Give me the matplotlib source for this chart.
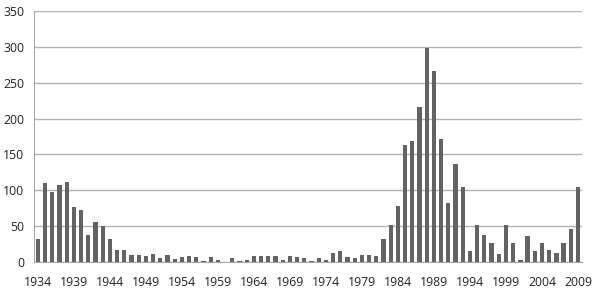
import matplotlib
matplotlib.use("Agg")
import matplotlib.pyplot as plt
import numpy as np

# one value per year, 1934 - 2009
years = list(range(1934, 2010))
counts = [32, 110, 97, 108, 112, 77, 72, 37, 56, 50,
          32, 17, 17, 10, 10, 9, 11, 6, 10, 4,
          7, 9, 7, 1, 7, 3, 0, 5, 2, 3,
          8, 8, 8, 8, 3, 9, 7, 6, 1, 6,
          3, 12, 16, 7, 6, 10, 10, 8, 32, 51,
          78, 163, 169, 216, 298, 267, 171, 83, 137, 105,
          15, 51, 37, 27, 11, 52, 26, 3, 36, 15,
          26, 17, 12, 26, 46, 105]
tick_years = list(range(1934, 2010, 5))

plt.rcParams['font.family'] = ['Open Sans', 'DejaVu Sans']

fig = plt.figure(figsize=(5.95, 2.91), dpi=100)
ax = fig.add_axes([0.057, 0.0997, 0.921, 0.862])

x = np.arange(len(years))
ax.bar(x, counts, width=0.6, color='#636363', zorder=3)

ax.set_xlim(-0.55, len(years) - 0.45)
ax.set_ylim(0, 350)
ax.set_yticks(range(0, 351, 50))
ax.yaxis.grid(True, color='#b3b3b3', linewidth=1, zorder=0)

ax.set_xticks([years.index(y) for y in tick_years])
ax.set_xticklabels([str(y) for y in tick_years])

for s in ['top', 'right']:
    ax.spines[s].set_visible(False)
for s in ['left', 'bottom']:
    ax.spines[s].set_color('#a6a6a6')
ax.tick_params(length=0, labelsize=8.8, colors='#222222')
ax.tick_params(axis='x', pad=10)
ax.tick_params(axis='y', pad=7)

fig.savefig('out.png', dpi=100)
